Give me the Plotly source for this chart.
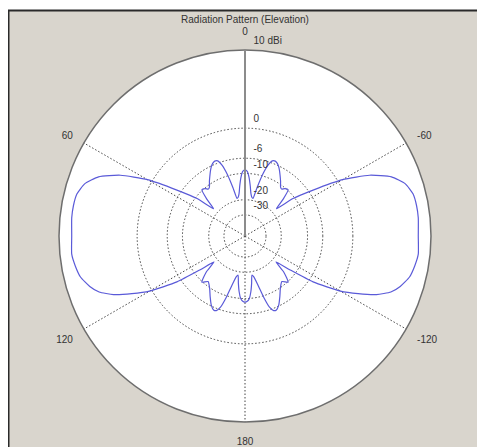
import numpy as np
import plotly.graph_objects as go

title_text = "Radiation Pattern (Elevation)"
ring_db = [-30, -20, -10, -6, 0]
ring_labels = ["-30", "-20", "-10", "-6", "0"]
outer_db = 10
outer_label = "10 dBi"
angle_ticks = [0, 60, 120, 180, 240, 300]
angle_labels = ["0", "60", "120", "180", "-120", "-60"]

# elevation angle (deg, counter-clockwise from top) and gain (dBi), left half
theta_left = [0, 2, 4, 6, 8, 10, 12, 14, 16, 18,
              20, 22, 24, 26, 28, 30, 33, 36, 38, 40,
              43, 46, 49, 52, 56, 60, 64, 68, 72, 76,
              80, 84, 90, 96, 100, 104, 108, 111, 114, 117,
              120, 124, 127, 130, 133, 137, 141, 146, 150, 154,
              157, 159, 161, 163, 165, 168, 170, 172, 174, 176,
              178, 180]
gain_left = [-9.0, -9.4, -11.2, -14.0, -17.0, -18.5, -18.9, -14.2, -9.6, -6.8,
             -5.5, -5.3, -5.6, -6.2, -7.0, -7.9, -9.2, -10.6, -10.9, -10.2,
             -9.8, -13.0, -17.5, -10.5, -5.0, 0.8, 4.6, 7.0, 8.2, 8.7,
             8.8, 8.8, 8.7, 8.8, 8.6, 8.3, 7.6, 6.8, 5.3, 3.0,
             0.4, -5.0, -12.0, -18.0, -13.0, -9.8, -11.2, -9.8, -8.0, -6.2,
             -5.4, -5.5, -6.6, -9.5, -13.5, -17.5, -18.3, -15.0, -12.0, -10.0,
             -9.2, -9.0]
# right half
theta_right = [-180, -178, -176, -174, -172, -170, -168, -165, -163, -161,
               -159, -157, -154, -150, -146, -141, -137, -133, -130, -127,
               -124, -120, -117, -114, -111, -108, -104, -100, -96, -90,
               -84, -80, -76, -72, -68, -64, -60, -56, -52, -49,
               -46, -43, -40, -38, -36, -33, -30, -28, -26, -24,
               -22, -20, -18, -16, -14, -12, -10, -8, -6, -4,
               -2, 0]
gain_right = [-9.0, -9.2, -10.0, -12.0, -15.0, -18.3, -17.5, -13.5, -9.5, -6.6,
              -5.5, -5.4, -6.2, -8.0, -9.8, -11.2, -9.8, -13.0, -18.0, -12.0,
              -5.0, 0.4, 3.0, 5.3, 6.8, 7.6, 8.3, 8.6, 8.8, 8.7,
              8.8, 8.8, 8.7, 8.2, 7.0, 4.6, 0.8, -5.0, -10.5, -17.5,
              -13.0, -9.8, -10.2, -10.9, -10.6, -9.2, -7.9, -7.0, -6.2, -5.6,
              -5.3, -5.5, -6.8, -9.6, -14.2, -18.9, -18.5, -17.0, -14.0, -11.2,
              -9.4, -9.0]

# logarithmic radial scale of the plot (radius grows by a constant factor per dB)
K = 0.0545
R0 = 108.0


def rp(db):
    return R0 * np.exp(K * np.asarray(db, dtype=float))


theta_all = theta_left + theta_right[1:]
gain_all = gain_left + gain_right[1:]
r_max = float(rp(outer_db))

W, H = 485, 447
OFF = 8  # page body margin
cx, cy, rad = 245 - OFF, 236 - OFF, 186
rad2 = 210
dom_x = [(cx - rad) / W, (cx + rad) / W]
dom_y = [(H - cy - rad) / H, (H - cy + rad) / H]
dom_x2 = [(cx - rad2) / W, (cx + rad2) / W]
dom_y2 = [(H - cy - rad2) / H, (H - cy + rad2) / H]
scale = r_max / rad

font = dict(family="Liberation Sans, Arial, sans-serif", size=10, color="#333333")
dotdash = "1.5px,2px"

fig = go.Figure()
fig.add_trace(go.Scatterpolar(
    r=rp(gain_all), theta=theta_all, mode="lines",
    line=dict(color="#5a5ad8", width=1.2, shape="spline", smoothing=0.5),
    hoverinfo="skip", showlegend=False, subplot="polar"))
fig.add_trace(go.Scatterpolar(
    r=[], theta=[], mode="lines", showlegend=False, subplot="polar2"))

fig.update_layout(
    width=W, height=H, autosize=False,
    margin=dict(l=0, r=0, t=0, b=0),
    paper_bgcolor="white",
    font=font,
    title=dict(text=title_text, x=cx / W, xanchor="center", y=1 - (19 - OFF) / H,
               yanchor="middle", font=dict(size=10, color="#333333")),
    shapes=[dict(type="rect", xref="paper", yref="paper",
                 x0=0.5 / W, x1=1.05, y0=-0.05, y1=1 - 2.5 / H,
                 fillcolor="#d9d5cd", line=dict(color="#2a2a2a", width=2),
                 layer="below")],
    polar=dict(
        domain=dict(x=dom_x, y=dom_y),
        bgcolor="white",
        angularaxis=dict(
            rotation=90, direction="counterclockwise",
            tickmode="array", tickvals=angle_ticks, ticktext=angle_labels,
            ticks="outside", ticklen=10, tickcolor="rgba(0,0,0,0)",
            showline=True, linecolor="#6e6e6e", linewidth=1.5,
            showgrid=True, gridcolor="#444444", griddash=dotdash, gridwidth=1,
            tickfont=font),
        radialaxis=dict(
            range=[0, r_max], angle=90, tickmode="array",
            tickvals=list(rp(ring_db)), ticktext=ring_labels,
            showticklabels=False, ticks="",
            showline=True, linecolor="#8c8c8c", linewidth=2,
            showgrid=True, gridcolor="#444444", griddash=dotdash, gridwidth=1),
    ),
    polar2=dict(
        domain=dict(x=dom_x2, y=dom_y2),
        bgcolor="rgba(0,0,0,0)",
        angularaxis=dict(visible=False, rotation=90,
                         direction="counterclockwise"),
        radialaxis=dict(
            range=[0, rad2 * scale], angle=90, side="clockwise", tickangle=90,
            tickmode="array",
            tickvals=list(rp(ring_db + [outer_db]) + 9 * scale),
            ticktext=ring_labels + [outer_label],
            showticklabels=True, ticks="outside", ticklen=6,
            tickcolor="rgba(0,0,0,0)", showline=False, showgrid=False,
            tickfont=font),
    ),
)

fig.write_html("out.html")
